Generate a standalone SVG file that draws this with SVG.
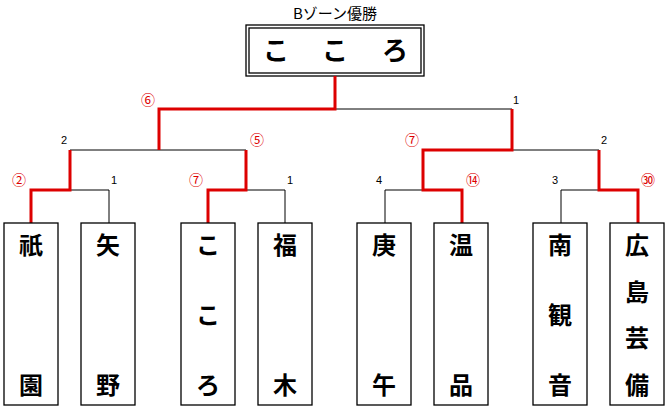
<svg xmlns="http://www.w3.org/2000/svg" width="670" height="410" viewBox="0 0 670 410">
<style>
.b{fill:#fff;stroke:#000;stroke-width:1.3}
.n{font-family:"Noto Sans CJK JP",sans-serif;font-size:24px;font-weight:bold;text-anchor:middle;fill:#000}
.k{fill:none;stroke:#000;stroke-width:1}
.r{fill:none;stroke:#d00;stroke-width:3}
.s{font-family:"Liberation Sans","Noto Sans CJK JP",sans-serif;font-size:11px;text-anchor:middle;fill:#000}
.red{fill:#d00;font-family:"Noto Sans CJK JP",sans-serif;font-size:14px}
</style>
<rect width="670" height="410" fill="#fff"/>
<text x="335" y="19" class="s" style="font-size:15px;font-family:'Noto Sans CJK JP',sans-serif">Bゾーン優勝</text>
<g id="champion">
<rect x="246" y="25" width="178" height="51" class="b"/>
<rect x="249" y="28" width="172" height="45" class="b"/>
<text x="276" y="60" class="n" style="font-size:26px">こ</text>
<text x="335" y="60" class="n" style="font-size:26px">こ</text>
<text x="395" y="60" class="n" style="font-size:26px">ろ</text>
</g>
<g id="connectors">
<path class="k" d="M335 109H512V150M70 150H246M423 150H599M31 190H109V223M208 190H285V223M385 190H462M561 190H638M385 190V223"/>
<path class="k" d="M561 190V223"/>
<path class="r" d="M335 76V109H159V150M70 150V190H31V223M246 150V190H208V223M512 109V150H423V190H462V223M599 150V190H638V223"/>
</g>
<g class="s">
<text x="148" y="105" class="red">⑥</text><text x="516" y="104">1</text>
<text x="64" y="144">2</text><text x="257" y="145" class="red">⑤</text>
<text x="412" y="145" class="red">⑦</text><text x="604" y="144">2</text>
<text x="19" y="185" class="red">②</text><text x="114" y="184">1</text>
<text x="196" y="185" class="red">⑦</text><text x="290" y="184">1</text>
<text x="379" y="184">4</text><text x="473" y="185" class="red">⑭</text>
<text x="555" y="184">3</text><text x="648" y="185" class="red">㉚</text>
</g>
<g id="gion"><rect x="4" y="223" width="54" height="182" class="b"/><text x="31" y="254" class="n">祇</text><text x="31" y="394" class="n">園</text></g>
<g id="yano"><rect x="81" y="223" width="54" height="182" class="b"/><text x="108" y="254" class="n">矢</text><text x="108" y="394" class="n">野</text></g>
<g id="kokoro"><rect x="181" y="223" width="54" height="182" class="b"/><text x="208" y="254" class="n">こ</text><text x="208" y="324" class="n">こ</text><text x="208" y="394" class="n">ろ</text></g>
<g id="fukugi"><rect x="258" y="223" width="54" height="182" class="b"/><text x="285" y="254" class="n">福</text><text x="285" y="394" class="n">木</text></g>
<g id="kogo"><rect x="357" y="223" width="54" height="182" class="b"/><text x="384" y="254" class="n">庚</text><text x="384" y="394" class="n">午</text></g>
<g id="onsen"><rect x="434" y="223" width="54" height="182" class="b"/><text x="461" y="254" class="n">温</text><text x="461" y="394" class="n">品</text></g>
<g id="minamikannon"><rect x="533" y="223" width="54" height="182" class="b"/><text x="560" y="254" class="n">南</text><text x="560" y="324" class="n">観</text><text x="560" y="394" class="n">音</text></g>
<g id="hiroshimageibi"><rect x="610" y="223" width="54" height="182" class="b"/><text x="637" y="254" class="n">広</text><text x="637" y="301" class="n">島</text><text x="637" y="347" class="n">芸</text><text x="637" y="394" class="n">備</text></g>
</svg>
